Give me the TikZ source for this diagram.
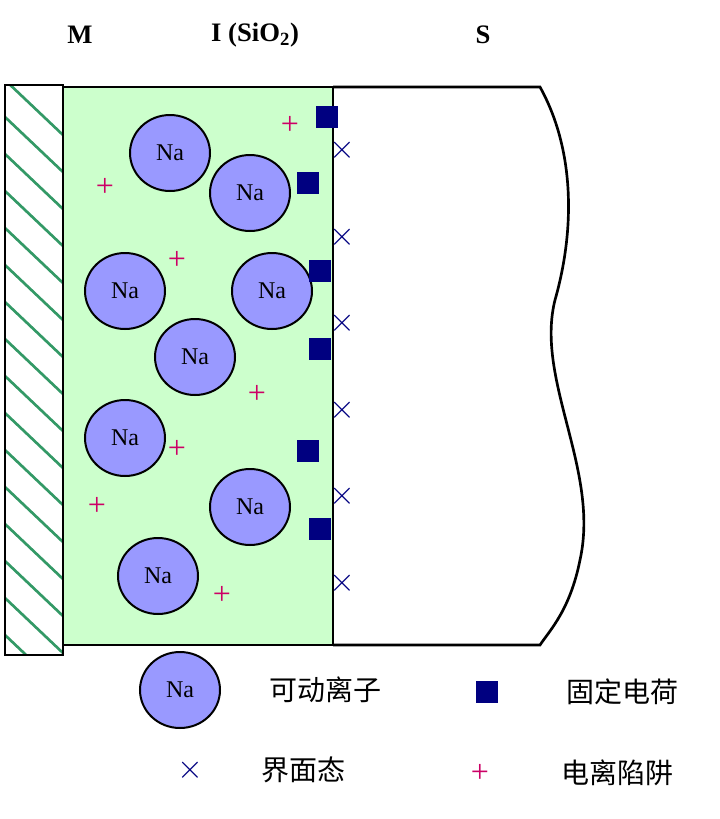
\documentclass[tikz,border=0pt]{standalone}
\usepackage{fontspec}
\setmainfont{Liberation Serif}
\newfontfamily\cjk{Noto Sans CJK SC}
\definecolor{oxide}{RGB}{204,255,204}
\definecolor{naion}{RGB}{153,153,255}
\definecolor{fixq}{RGB}{0,0,128}
\definecolor{trap}{RGB}{204,0,102}
\definecolor{hatch}{RGB}{51,153,102}
\usetikzlibrary{shapes.geometric}
\tikzset{
  na/.style={ellipse,draw,line width=1.5pt,fill=naion,minimum width=60pt,minimum height=57pt,inner sep=0,font=\fontsize{18}{18}\selectfont},
  fixed/.style={rectangle,fill=fixq,minimum size=16.5pt,inner sep=0},
  state/.style={font=\fontsize{24}{24}\selectfont,text=fixq,inner sep=0},
  trapq/.style={font=\fontsize{24}{24}\selectfont,text=trap,inner sep=0},
  lbl/.style={font=\bfseries\fontsize{20}{20}\selectfont},
  leg/.style={font=\cjk\fontsize{21}{21}\selectfont}
}
\begin{document}
\begin{tikzpicture}[x=0.75pt,y=-0.75pt]
  \useasboundingbox (0,0) rectangle (720,819);
  % labels
  \node[lbl] (m) at (80,35) {M};
  \node[lbl] (i) at (255,35) {I (SiO$_\mathbf{2}$)};
  \node[lbl] (s) at (483,35) {S};
  % oxide and semiconductor
  \fill[oxide] (63,87) rectangle (333,645);
  \draw[line width=2pt] (333,87) -- (540,87)
    .. controls (575,150) and (575,230) .. (555,300)
    .. controls (535,380) and (600,470) .. (580,560)
    .. controls (570,610) and (550,630) .. (540,645) -- (333,645);
  \draw[line width=2pt] (63,87) rectangle (333,645);
  % metal
  \begin{scope}
    \clip (5,85) rectangle (63,655);
    \foreach \y in {80,117,...,680} {
      \draw[hatch,line width=2pt] (5,\y) -- (63,\y+55);
    }
  \end{scope}
  \draw[line width=2pt] (5,85) rectangle (63,655);
  % ions
  \foreach \x/\y [count=\n] in {170/153,250/193,125/291,272/291,195/357,125/438,250/507,158/576} {
    \node[na] (na\n) at (\x,\y) {Na};
  }
  \foreach \x/\y [count=\n] in {327/117,308/183,320/271,320/349,308/451,320/529} {
    \node[fixed] (q\n) at (\x,\y) {};
  }
  \foreach \y [count=\n] in {150,237,323,410,496,583} {
    \node[state] (it\n) at (342,\y) {$\times$};
  }
  \foreach \x/\y [count=\n] in {290/125,105/187,177/260,257/394,177/449,97/506,222/595} {
    \node[trapq] (tr\n) at (\x,\y) {+};
  }
  % legend
  \node[na] (lna) at (180,690) {Na};
  \node[leg] (tna) at (325,690) {可动离子};
  \node[fixed] (lq) at (487,692) {};
  \node[leg] (tq) at (622,692) {固定电荷};
  \node[state] (lit) at (190,770) {$\times$};
  \node[leg] (tit) at (303,770) {界面态};
  \node[trapq] (ltr) at (480,773) {+};
  \node[leg] (ttr) at (617,773) {电离陷阱};
\end{tikzpicture}
\end{document}
